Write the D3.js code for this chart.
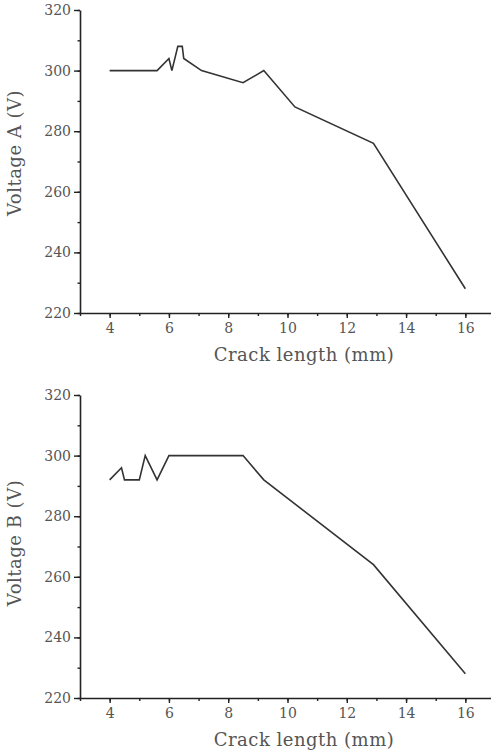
<!DOCTYPE html>
<html>
<head>
<meta charset="utf-8">
<script src="https://cdn.jsdelivr.net/npm/d3@7"></script>
<style>
  body { margin: 0; background: #fff; }
  svg text { font-family: "DejaVu Serif", serif; fill: #555; }
</style>
</head>
<body>
<aside></aside>
<script>
const width = 491;
const height = 756;

// crack length (mm) vs voltage (V)
const crackA = [4, 5.6, 6.0, 6.1, 6.3, 6.45, 6.5, 7.1, 8.5, 9.2, 10.25, 12.9, 16];
const voltA = [300, 300, 304, 300, 308, 308, 304, 300, 296, 300, 288, 276, 228];

const crackB = [4, 4.4, 4.5, 5.0, 5.2, 5.6, 6.0, 8.5, 9.2, 12.9, 16];
const voltB = [292, 296, 292, 292, 300, 292, 300, 300, 292, 264, 228];

const xTicks = [4, 6, 8, 10, 12, 14, 16];
const yTicks = [220, 240, 260, 280, 300, 320];

const svg = d3.select('aside')
    .append('svg')
    .attr('width', width)
    .attr('height', height);

const x = d3.scaleLinear().domain([3, 17]).range([80, 495]);

function drawPanel(xs, ys, top, bottom, yLabel, titleY) {
    const y = d3.scaleLinear().domain([220, 320]).range([bottom, top]);
    const g = svg.append('g');

    // minor ticks
    g.append('g')
        .attr('transform', `translate(0,${bottom})`)
        .call(d3.axisBottom(x).tickValues(d3.range(3, 18, 1)).tickSize(3).tickFormat(''))
        .call(a => a.select('.domain').remove());
    g.append('g')
        .attr('transform', 'translate(80,0)')
        .call(d3.axisLeft(y).tickValues(d3.range(220, 321, 10)).tickSize(2.5).tickFormat(''))
        .call(a => a.select('.domain').remove());

    const xAxis = g.append('g')
        .attr('transform', `translate(0,${bottom})`)
        .call(d3.axisBottom(x).tickValues(xTicks).tickSize(5).tickSizeOuter(0).tickPadding(5));
    const yAxis = g.append('g')
        .attr('transform', 'translate(80,0)')
        .call(d3.axisLeft(y).tickValues(yTicks).tickSize(6).tickSizeOuter(0).tickPadding(3));

    [xAxis, yAxis].forEach(a => {
        a.selectAll('text').style('font-size', '14px').attr('fill', '#666');
        a.select('.domain').attr('stroke', '#222').attr('stroke-width', 1.6);
    });
    g.selectAll('.tick line').attr('stroke', '#222').attr('stroke-width', 1.4);

    const line = d3.line()
        .x(d => x(d[0]))
        .y(d => y(d[1]));

    g.append('path')
        .datum(xs.map((v, i) => [v, ys[i]]))
        .attr('d', line)
        .attr('fill', 'none')
        .attr('stroke', '#333')
        .attr('stroke-width', 1.6)
        .attr('stroke-linejoin', 'miter');

    g.append('text')
        .attr('x', 304)
        .attr('y', bottom + 48)
        .attr('text-anchor', 'middle')
        .style('font-size', '18px')
        .style('letter-spacing', '0.5px')
        .text('Crack length (mm)');

    g.append('text')
        .attr('transform', `translate(21,${titleY}) rotate(-90)`)
        .attr('text-anchor', 'middle')
        .style('font-size', '18px')
        .style('letter-spacing', '0.5px')
        .text(yLabel);
}

drawPanel(crackA, voltA, 10, 313, 'Voltage A (V)', 153);
drawPanel(crackB, voltB, 395, 698, 'Voltage B (V)', 543);
</script>
</body>
</html>
